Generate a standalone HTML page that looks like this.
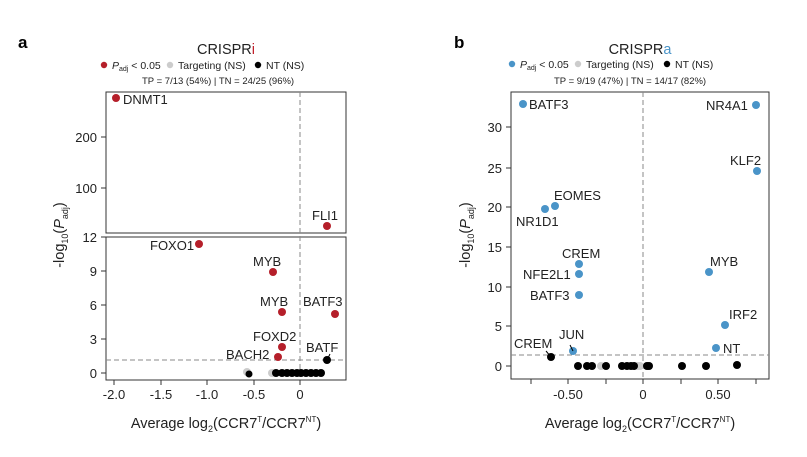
<!DOCTYPE html>
<html><head><meta charset="utf-8"><style>
body{margin:0;background:#fff}
svg{display:block;font-family:"Liberation Sans",sans-serif}
</style></head><body>
<svg width="807" height="457" viewBox="0 0 807 457">
<g font-size="12" fill="#222">
<!-- Panel a -->
<text x="18" y="48" font-size="17" font-weight="bold" fill="#000">a</text>
<text x="226" y="54" font-size="14.5" text-anchor="middle">CRISPR<tspan fill="#c0202a">i</tspan></text>
<circle cx="104" cy="65" r="3.2" fill="#b51f2a"/>
<text x="112" y="69" font-size="10.5"><tspan font-style="italic">P</tspan><tspan font-size="7" dy="2">adj</tspan><tspan dy="-2"> &lt; 0.05</tspan></text>
<circle cx="170" cy="65" r="3.2" fill="#ccc"/>
<text x="178" y="69" font-size="10.5">Targeting (NS)</text>
<circle cx="258" cy="65" r="3.2" fill="#000"/>
<text x="266" y="69" font-size="10.5">NT (NS)</text>
<text x="142" y="84" font-size="9.5">TP = 7/13 (54%) | TN = 24/25 (96%)</text>

<rect x="106" y="92" width="240" height="141" fill="none" stroke="#333" stroke-width="1"/>
<rect x="106" y="237" width="240" height="143" fill="none" stroke="#333" stroke-width="1"/>
<line x1="300" y1="92" x2="300" y2="380" stroke="#888" stroke-dasharray="5,3"/>
<line x1="106" y1="360" x2="346" y2="360" stroke="#888" stroke-dasharray="5,3"/>
<g stroke="#333"><line x1="101" y1="137" x2="106" y2="137"/><line x1="101" y1="188" x2="106" y2="188"/>
<line x1="101" y1="237" x2="106" y2="237"/><line x1="101" y1="271" x2="106" y2="271"/><line x1="101" y1="305" x2="106" y2="305"/><line x1="101" y1="339" x2="106" y2="339"/><line x1="101" y1="373" x2="106" y2="373"/>
<line x1="114" y1="380" x2="114" y2="385"/><line x1="161" y1="380" x2="161" y2="385"/><line x1="207" y1="380" x2="207" y2="385"/><line x1="254" y1="380" x2="254" y2="385"/><line x1="300" y1="380" x2="300" y2="385"/></g>
<g text-anchor="end" font-size="13"><text x="97" y="142">200</text><text x="97" y="193">100</text><text x="97" y="242">12</text><text x="97" y="276">9</text><text x="97" y="310">6</text><text x="97" y="344">3</text><text x="97" y="378">0</text></g>
<g text-anchor="middle" font-size="13"><text x="114" y="399">-2.0</text><text x="161" y="399">-1.5</text><text x="207" y="399">-1.0</text><text x="254" y="399">-0.5</text><text x="300" y="399">0</text></g>
<text x="226" y="428" font-size="14.5" text-anchor="middle">Average log<tspan font-size="9" dy="4">2</tspan><tspan dy="-4">(CCR7</tspan><tspan font-size="8" dy="-6">T</tspan><tspan dy="6">/CCR7</tspan><tspan font-size="8" dy="-6">NT</tspan><tspan dy="6">)</tspan></text>
<text transform="translate(64,235) rotate(-90)" font-size="14.5" text-anchor="middle">-log<tspan font-size="9" dy="4">10</tspan><tspan dy="-4">(</tspan><tspan font-style="italic">P</tspan><tspan font-size="9" dy="4">adj</tspan><tspan dy="-4">)</tspan></text>

<g fill="#b51f2a"><circle cx="116" cy="98" r="4"/><circle cx="327" cy="226" r="4"/><circle cx="199" cy="244" r="4"/><circle cx="273" cy="272" r="4"/><circle cx="282" cy="312" r="4"/><circle cx="335" cy="314" r="4"/><circle cx="282" cy="347" r="4"/><circle cx="278" cy="357" r="4"/></g>
<g fill="#ccc"><circle cx="247" cy="372" r="4"/><circle cx="272" cy="373" r="4"/></g>
<g fill="#000"><circle cx="249" cy="374" r="3.5"/><circle cx="276" cy="373" r="4"/><circle cx="282" cy="373" r="4"/><circle cx="287" cy="373" r="4"/><circle cx="292" cy="373" r="4"/><circle cx="297" cy="373" r="4"/><circle cx="301" cy="373" r="4"/><circle cx="306" cy="373" r="4"/><circle cx="311" cy="373" r="4"/><circle cx="316" cy="373" r="4"/><circle cx="321" cy="373" r="4"/><circle cx="327" cy="360" r="4"/></g>
<line x1="327" y1="360" x2="330" y2="354" stroke="#000"/>
<g font-size="13"><text x="123" y="104">DNMT1</text><text x="312" y="220">FLI1</text><text x="150" y="250">FOXO1</text><text x="253" y="266">MYB</text><text x="260" y="306">MYB</text><text x="303" y="306">BATF3</text><text x="253" y="341">FOXD2</text><text x="226" y="359">BACH2</text><text x="306" y="352">BATF</text></g>

<!-- Panel b -->
<text x="454" y="48" font-size="17" font-weight="bold" fill="#000">b</text>
<text x="640" y="54" font-size="14.5" text-anchor="middle">CRISPR<tspan fill="#4a94c8">a</tspan></text>
<circle cx="512" cy="64" r="3.2" fill="#4a94c8"/>
<text x="520" y="68" font-size="10.5"><tspan font-style="italic">P</tspan><tspan font-size="7" dy="2">adj</tspan><tspan dy="-2"> &lt; 0.05</tspan></text>
<circle cx="578" cy="64" r="3.2" fill="#ccc"/>
<text x="586" y="68" font-size="10.5">Targeting (NS)</text>
<circle cx="667" cy="64" r="3.2" fill="#000"/>
<text x="675" y="68" font-size="10.5">NT (NS)</text>
<text x="554" y="84" font-size="9.5">TP = 9/19 (47%) | TN = 14/17 (82%)</text>

<rect x="511" y="92" width="258" height="287" fill="none" stroke="#333"/>
<line x1="643" y1="92" x2="643" y2="379" stroke="#888" stroke-dasharray="5,3"/>
<line x1="511" y1="355" x2="769" y2="355" stroke="#888" stroke-dasharray="5,3"/>
<g stroke="#333"><line x1="506" y1="127" x2="511" y2="127"/><line x1="506" y1="168" x2="511" y2="168"/><line x1="506" y1="207" x2="511" y2="207"/><line x1="506" y1="247" x2="511" y2="247"/><line x1="506" y1="287" x2="511" y2="287"/><line x1="506" y1="326" x2="511" y2="326"/><line x1="506" y1="366" x2="511" y2="366"/>
<line x1="531" y1="379" x2="531" y2="384"/><line x1="568" y1="379" x2="568" y2="384"/><line x1="606" y1="379" x2="606" y2="384"/><line x1="643" y1="379" x2="643" y2="384"/><line x1="681" y1="379" x2="681" y2="384"/><line x1="718" y1="379" x2="718" y2="384"/><line x1="756" y1="379" x2="756" y2="384"/></g>
<g text-anchor="end" font-size="13"><text x="502" y="132">30</text><text x="502" y="173">25</text><text x="502" y="212">20</text><text x="502" y="252">15</text><text x="502" y="292">10</text><text x="502" y="331">5</text><text x="502" y="371">0</text></g>
<g text-anchor="middle" font-size="13"><text x="568" y="399">-0.50</text><text x="643" y="399">0</text><text x="718" y="399">0.50</text></g>
<text x="640" y="428" font-size="14.5" text-anchor="middle">Average log<tspan font-size="9" dy="4">2</tspan><tspan dy="-4">(CCR7</tspan><tspan font-size="8" dy="-6">T</tspan><tspan dy="6">/CCR7</tspan><tspan font-size="8" dy="-6">NT</tspan><tspan dy="6">)</tspan></text>
<text transform="translate(470,235) rotate(-90)" font-size="14.5" text-anchor="middle">-log<tspan font-size="9" dy="4">10</tspan><tspan dy="-4">(</tspan><tspan font-style="italic">P</tspan><tspan font-size="9" dy="4">adj</tspan><tspan dy="-4">)</tspan></text>

<g fill="#ccc"><circle cx="601" cy="366" r="4"/><circle cx="638" cy="366" r="4"/><circle cx="640" cy="366" r="4"/></g>
<g fill="#4a94c8"><circle cx="523" cy="104" r="4"/><circle cx="756" cy="105" r="4"/><circle cx="757" cy="171" r="4"/><circle cx="555" cy="206" r="4"/><circle cx="545" cy="209" r="4"/><circle cx="579" cy="264" r="4"/><circle cx="579" cy="274" r="4"/><circle cx="579" cy="295" r="4"/><circle cx="709" cy="272" r="4"/><circle cx="725" cy="325" r="4"/><circle cx="716" cy="348" r="4"/><circle cx="573" cy="351" r="4"/></g>
<g fill="#000"><circle cx="551" cy="357" r="4"/><circle cx="578" cy="366" r="4"/><circle cx="587" cy="366" r="4"/><circle cx="592" cy="366" r="4"/><circle cx="606" cy="366" r="4"/><circle cx="622" cy="366" r="4"/><circle cx="627" cy="366" r="4"/><circle cx="631" cy="366" r="4"/><circle cx="634" cy="366" r="4"/><circle cx="647" cy="366" r="4"/><circle cx="649" cy="366" r="4"/><circle cx="682" cy="366" r="4"/><circle cx="706" cy="366" r="4"/><circle cx="737" cy="365" r="4"/></g>
<line x1="551" y1="357" x2="546" y2="351" stroke="#000"/><line x1="573" y1="351" x2="570" y2="345" stroke="#000"/>
<g font-size="13"><text x="529" y="109">BATF3</text><text x="706" y="110">NR4A1</text><text x="730" y="165">KLF2</text><text x="554" y="200">EOMES</text><text x="516" y="226">NR1D1</text><text x="562" y="258">CREM</text><text x="523" y="279">NFE2L1</text><text x="530" y="300">BATF3</text><text x="710" y="266">MYB</text><text x="729" y="319">IRF2</text><text x="723" y="353">NT</text><text x="559" y="339">JUN</text><text x="514" y="348">CREM</text></g>
</g>
</svg>
</body></html>
